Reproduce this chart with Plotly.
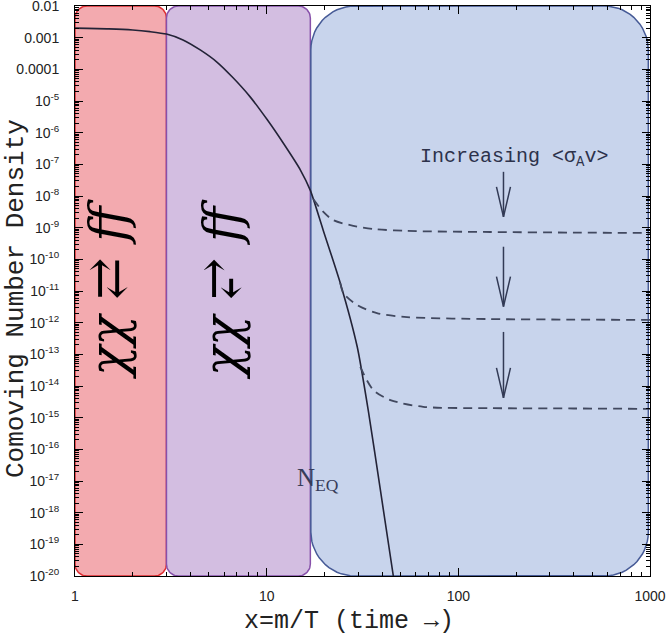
import numpy as np
import plotly.graph_objects as go

# ---------------- data ----------------
eq_x = [1, 1.5, 2, 2.46, 3, 3.66, 4.5, 5.5, 6.68, 8.2, 10.1, 12.2, 15, 16.9, 19.7, 24.2, 29.7, 34, 39.2, 45.8]
eq_y = [2.0e-3, 1.9e-3, 1.75e-3, 1.55e-3, 1.3e-3, 8.5e-4, 4.1e-4, 1.7e-4, 5.4e-5, 1.35e-5, 2.5e-6, 4.7e-7,
        6.6e-8, 1.5e-8, 8.5e-10, 1.8e-11, 1.7e-13, 1.5e-15, 5.2e-18, 1e-20]

fo1_x = [17.5, 19.7, 22.2, 27.3, 36, 54, 147, 400, 1000]
fo1_y = [8e-9, 3.2e-9, 1.75e-9, 1.2e-9, 9.1e-10, 7.9e-10, 7.3e-10, 7.0e-10, 6.8e-10]
fo2_x = [24.2, 25.1, 29.7, 37.6, 54, 147, 400, 1000]
fo2_y = [1.8e-11, 8.7e-12, 3.6e-12, 2.0e-12, 1.5e-12, 1.3e-12, 1.25e-12, 1.22e-12]
fo3_x = [30.8, 36, 44.2, 65.6, 147, 400, 1000]
fo3_y = [4e-14, 7.5e-15, 3.6e-15, 2.2e-15, 2.0e-15, 1.95e-15, 1.9e-15]

region_edges = [1, 3, 16.9, 17.0, 980]   # red: 1-3, purple: 3-16.9, blue: 17-980
arrow_x = 172
arrow_top = [5.8e-8, 2.5e-10, 5.1e-13]
arrow_tip = [2.2e-9, 3.2e-12, 4.2e-15]

x_tickvals = [1, 10, 100, 1000]
x_ticktext = ["1", "10", "100", "1000"]
y_exponents = list(range(-2, -21, -1))

# ---------------- geometry helpers ----------------
PX_PER_DEC_X = 191.5
PX_PER_DEC_Y = 31.67
Y_LO, Y_HI = -20, -2


def rounded_box(x0, x1, r_px):
    """Rounded rectangle in log space spanning the full y range."""
    lx0, lx1 = np.log10(x0), np.log10(x1)
    rx = r_px / PX_PER_DEC_X
    ry = r_px / PX_PER_DEC_Y
    pts = []
    corners = [
        (lx1 - rx, Y_HI - ry, 0, 90),      # top-right
        (lx0 + rx, Y_HI - ry, 90, 180),    # top-left
        (lx0 + rx, Y_LO + ry, 180, 270),   # bottom-left
        (lx1 - rx, Y_LO + ry, 270, 360),   # bottom-right
    ]
    for cx, cy, a0, a1 in corners:
        t = np.radians(np.linspace(a0, a1, 16))
        for tt in t:
            pts.append((cx + rx * np.cos(tt), cy + ry * np.sin(tt)))
    pts.append(pts[0])
    xs = [10 ** p[0] for p in pts]
    ys = [10 ** p[1] for p in pts]
    return xs, ys


fig = go.Figure()

boxes = [
    (region_edges[0], region_edges[1], 12, "rgb(243,170,175)", "rgb(222,45,50)"),
    (region_edges[1], region_edges[2], 12, "rgb(211,190,225)", "rgb(135,80,170)"),
    (region_edges[3], region_edges[4], 44, "rgb(200,212,236)", "rgb(70,90,150)"),
]
for x0, x1, r, fc, lc in boxes:
    bx, by = rounded_box(x0, x1, r)
    fig.add_trace(go.Scatter(x=bx, y=by, mode="lines", fill="toself", fillcolor=fc,
                             line=dict(color=lc, width=1.5), hoverinfo="skip", showlegend=False))

# equilibrium curve
fig.add_trace(go.Scatter(x=eq_x, y=eq_y, mode="lines",
                         line=dict(color="rgb(35,35,55)", width=1.6, shape="spline", smoothing=0.6),
                         hoverinfo="skip", showlegend=False))
# freeze-out curves
for fx, fy in [(fo1_x, fo1_y), (fo2_x, fo2_y), (fo3_x, fo3_y)]:
    fig.add_trace(go.Scatter(x=fx, y=fy, mode="lines",
                             line=dict(color="rgb(65,72,95)", width=1.8, dash="9px,6px",
                                       shape="spline", smoothing=0.8),
                             hoverinfo="skip", showlegend=False))

# arrows
head_dx = 7 / PX_PER_DEC_X
head_dy = 30 / PX_PER_DEC_Y
for top, tip in zip(arrow_top, arrow_tip):
    fig.add_trace(go.Scatter(x=[arrow_x, arrow_x], y=[top, tip], mode="lines",
                             line=dict(color="rgb(50,58,85)", width=1.5),
                             hoverinfo="skip", showlegend=False))
    fig.add_trace(go.Scatter(x=[arrow_x * 10 ** (-head_dx), arrow_x, arrow_x * 10 ** head_dx],
                             y=[tip * 10 ** head_dy, tip, tip * 10 ** head_dy], mode="lines",
                             line=dict(color="rgb(50,58,85)", width=1.5),
                             hoverinfo="skip", showlegend=False))

minor_x = [d * 10 ** k for k in range(0, 3) for d in range(2, 10)]
minor_y = [d * 10.0 ** k for k in range(-20, -2) for d in range(2, 10)]

y_tickvals = [10.0 ** e for e in y_exponents]
y_ticktext = []
for e in y_exponents:
    if e >= -4:
        y_ticktext.append(f"{10.0 ** e:.{-e}f}")
    else:
        y_ticktext.append(f"10<sup>{e}</sup>")

axis_common = dict(showline=True, linecolor="black", linewidth=1, mirror="allticks",
                   ticks="inside", ticklen=8, tickcolor="black", tickwidth=1,
                   showgrid=False, zeroline=False, ticklabeloverflow="allow", automargin=False,
                   tickfont=dict(family="Liberation Sans, Arial, sans-serif", size=14, color="#222"))

fig.update_xaxes(type="log", range=[0, 3], tickvals=x_tickvals, ticktext=x_ticktext,
                 ticklabelstandoff=7,
                 minor=dict(tickvals=minor_x, ticks="inside", ticklen=4, tickcolor="black", showgrid=False),
                 **axis_common)
fig.update_yaxes(type="log", range=[Y_LO, Y_HI], tickvals=y_tickvals, ticktext=y_ticktext,
                 ticklabelstandoff=12,
                 minor=dict(tickvals=minor_y, ticks="inside", ticklen=4, tickcolor="black", showgrid=False),
                 **axis_common)

mono = "Liberation Mono, Courier New, monospace"
serif = "DejaVu Serif, serif"
annotations = [
    dict(text="Comoving Number Density", xref="paper", yref="paper", x=-0.1026, y=0.486,
         xanchor="center", yanchor="middle",
         textangle=-90, showarrow=False, font=dict(family=mono, size=26, color="#222")),
    dict(text="x=m/T (time \u2192)", xref="paper", yref="paper", x=0.4765, y=-0.080,
         xanchor="center", yanchor="middle",
         showarrow=False, font=dict(family=mono, size=25, color="#222")),
    dict(text="Increasing &lt;σ<sub>A</sub>v&gt;", xref="x", yref="y", x=np.log10(196), y=-6.77,
         showarrow=False, font=dict(family=mono, size=20, color="rgb(45,50,75)")),
    dict(text="N<sub>EQ</sub>", xref="x", yref="y", x=np.log10(18.6), y=-16.96,
         showarrow=False, font=dict(family="Liberation Serif, serif", size=25, color="rgb(55,60,90)")),
    dict(text="<i>χχ</i> ⇄ <i>ff</i>", xref="x", yref="y", x=0.172, y=-10.94, textangle=-90,
         showarrow=False, font=dict(family=serif, size=50, color="black")),
    dict(text="<i>χχ</i> ⥂ <i>ff</i>", xref="x", yref="y", x=0.768, y=-10.94, textangle=-90,
         showarrow=False, font=dict(family=serif, size=50, color="black")),
]

fig.update_layout(width=668, height=638, margin=dict(l=75, r=18, t=6, b=62),
                  paper_bgcolor="white", plot_bgcolor="white", annotations=annotations,
                  showlegend=False)

fig.write_html("out.html", config={"displayModeBar": False},
               post_script="document.body.style.margin='0px';")
